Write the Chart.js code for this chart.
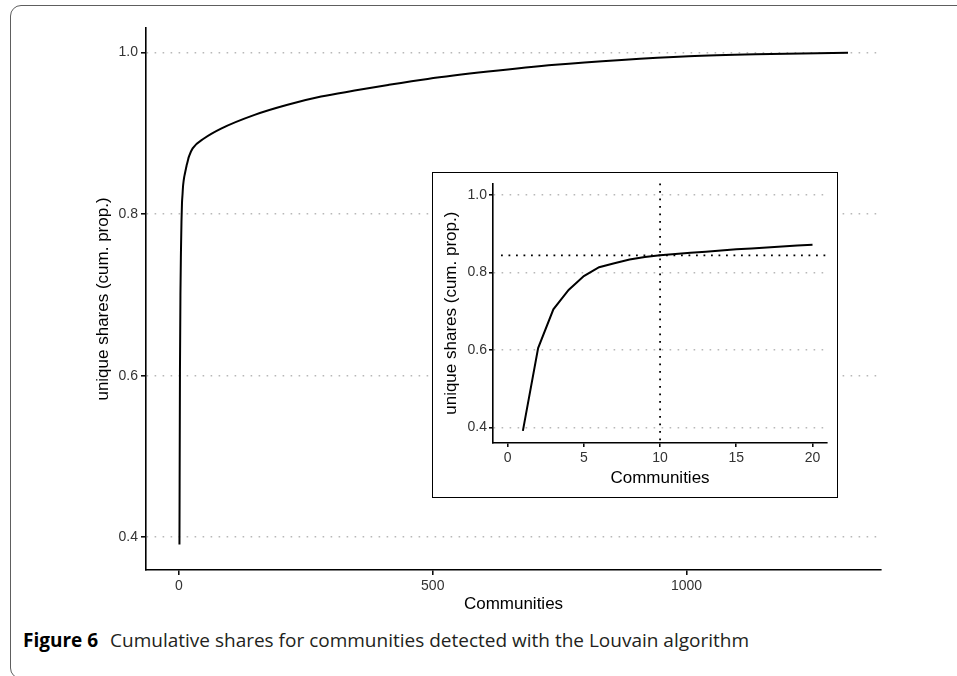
<!DOCTYPE html>
<html>
<head>
<meta charset="utf-8">
<script src="https://cdn.jsdelivr.net/npm/chart.js@4.4.1/dist/chart.umd.min.js"></script>
<style>
  html, body { margin: 0; padding: 0; background: #fff; }
  body { width: 957px; height: 676px; position: relative; overflow: hidden; }
  #frame {
    position: absolute; left: 10px; top: 5px; width: 1000px; height: 674px;
    border: 1.6px solid #5e5e5e; border-radius: 11px; box-sizing: border-box;
  }
  #mainChart { position: absolute; left: 0; top: 0; }
  #insetBox {
    position: absolute; left: 432px; top: 172px; width: 406px; height: 326px;
    border: 1px solid #000; background: #fff; box-sizing: border-box;
  }
  #insetChart { position: absolute; left: 0; top: 0; }
  #caption {
    position: absolute; left: 23px; top: 628px; line-height: 24px;
    font-family: "Open Sans", sans-serif; font-size: 19px; color: #231f20;
    white-space: nowrap;
  }
  #caption b { font-weight: 700; color: #000; margin-right: 7px; }
</style>
</head>
<body>
<div id="frame"></div>
<canvas id="mainChart" width="957" height="620"></canvas>
<div id="insetBox"><canvas id="insetChart" width="404" height="324"></canvas></div>
<div id="caption"><b>Figure 6</b> Cumulative shares for communities detected with the Louvain algorithm</div>

<script>
// cumulative share of unique shares by number of communities
const communities = [1, 2, 3, 4, 5, 6, 7, 8, 9, 10, 11, 12, 13, 14, 15, 16, 17, 18, 19, 20,
  27, 50, 83, 149, 214, 280, 346, 412, 490, 609, 741, 872, 1004, 1136, 1318];
const shares = [0.391, 0.605, 0.705, 0.755, 0.791, 0.814, 0.824, 0.834, 0.840, 0.8445,
  0.848, 0.851, 0.854, 0.857, 0.860, 0.8625, 0.865, 0.8675, 0.870, 0.872,
  0.8815, 0.894, 0.906, 0.923, 0.9355, 0.9456, 0.953, 0.960, 0.9675, 0.9765,
  0.985, 0.991, 0.9955, 0.998, 1.0];

// inset zooms on the first 20 communities
const insetCount = 20;
const refCommunity = 10;
const refShare = 0.8445;

const mainXTicks = [0, 500, 1000];
const mainYTicks = [0.4, 0.6, 0.8, 1.0];
const insetXTicks = [0, 5, 10, 15, 20];
const insetYTicks = [0.4, 0.6, 0.8, 1.0];

const FONT = "'Liberation Sans', Arial, sans-serif";

function points(n) {
  return communities.slice(0, n).map((c, i) => ({ x: c, y: shares[i] }));
}

function axis(opts) {
  return {
    type: 'linear',
    min: opts.min,
    max: opts.max,
    afterBuildTicks: s => { s.ticks = opts.ticks.map(v => ({ value: v })); },
    afterFit: s => { if (opts.width) s.width = opts.width; if (opts.height) s.height = opts.height; },
    border: { display: true, color: '#000', width: 1.6, dash: [1.6, 6.4] },
    grid: {
      drawOnChartArea: opts.grid,
      drawTicks: true,
      tickLength: opts.tickLength,
      color: '#b8b8b8',
      lineWidth: 1.6,
      tickColor: '#000',
      tickWidth: 1.5,
      tickBorderDash: []
    },
    ticks: {
      color: '#333',
      padding: opts.tickPad,
      font: { family: FONT, size: 14 },
      callback: opts.fmt
    },
    title: {
      display: true,
      text: opts.title,
      color: '#000',
      font: { family: FONT, size: 17 },
      padding: opts.titlePad
    }
  };
}

const lineStyle = {
  borderColor: '#000',
  borderWidth: 2,
  pointRadius: 0,
  fill: false
};

const refLines = {
  id: 'refLines',
  beforeDatasetsDraw(chart) {
    const { ctx, chartArea, scales } = chart;
    const px = scales.x.getPixelForValue(refCommunity);
    const py = scales.y.getPixelForValue(refShare);
    ctx.save();
    ctx.strokeStyle = '#000';
    ctx.lineWidth = 1.8;
    ctx.setLineDash([1.8, 5.7]);
    ctx.beginPath();
    ctx.moveTo(px, chartArea.top);
    ctx.lineTo(px, chartArea.bottom);
    ctx.stroke();
    ctx.beginPath();
    ctx.moveTo(chartArea.left + 8, py);
    ctx.lineTo(chartArea.right, py);
    ctx.stroke();
    ctx.restore();
  }
};

new Chart(document.getElementById('mainChart'), {
  type: 'line',
  data: {
    datasets: [Object.assign({ data: points(communities.length), cubicInterpolationMode: 'monotone' }, lineStyle)]
  },
  options: {
    responsive: false,
    animation: false,
    devicePixelRatio: 1,
    layout: { padding: { left: 0, top: 28, right: 76, bottom: 0 } },
    plugins: { legend: { display: false }, tooltip: { enabled: false } },
    scales: {
      x: axis({ min: -64.9, max: 1383, ticks: mainXTicks, height: 50, grid: false,
        tickLength: 5, tickPad: 3, title: 'Communities', titlePad: { top: 0, bottom: 5 },
        fmt: v => String(v) }),
      y: axis({ min: 0.3595, max: 1.0305, ticks: mainYTicks, width: 146, grid: true,
        tickLength: 5, tickPad: 3, title: 'unique shares (cum. prop.)', titlePad: { top: 93, bottom: 0 },
        fmt: v => v.toFixed(1) })
    }
  }
});

new Chart(document.getElementById('insetChart'), {
  type: 'line',
  data: {
    datasets: [Object.assign({ data: points(insetCount), tension: 0 }, lineStyle)]
  },
  options: {
    responsive: false,
    animation: false,
    devicePixelRatio: 1,
    layout: { padding: { left: 0, top: 10, right: 10, bottom: 0 } },
    plugins: { legend: { display: false }, tooltip: { enabled: false } },
    scales: {
      x: axis({ min: -0.96, max: 20.95, ticks: insetXTicks, height: 54, grid: false,
        tickLength: 4, tickPad: 3, title: 'Communities', titlePad: { top: 0, bottom: 8.5 },
        fmt: v => String(v) }),
      y: axis({ min: 0.3595, max: 1.0305, ticks: insetYTicks, width: 60, grid: true,
        tickLength: 4, tickPad: 2, title: 'unique shares (cum. prop.)', titlePad: { top: 8.5, bottom: 0 },
        fmt: v => v.toFixed(1) })
    }
  },
  plugins: [refLines]
});
</script>
</body>
</html>
